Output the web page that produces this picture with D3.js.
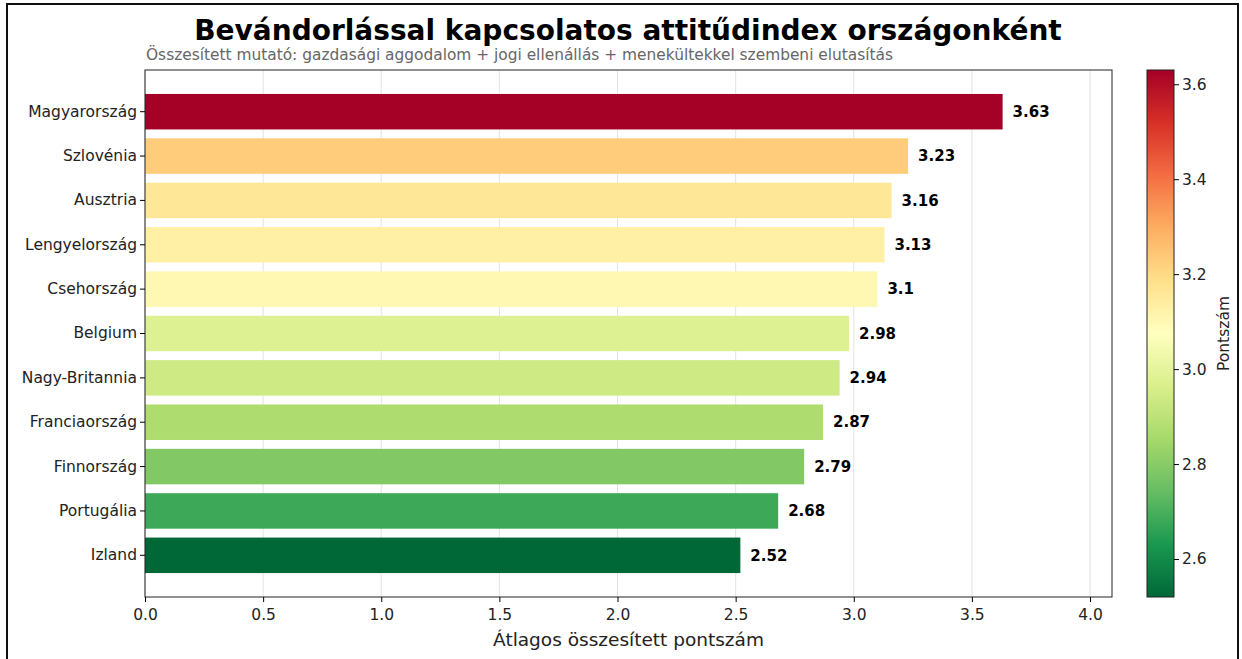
<!DOCTYPE html>
<html>
<head>
<meta charset="utf-8">
<script src="https://cdn.jsdelivr.net/npm/d3@7"></script>
<style>
  body { margin: 0; background: #fff; }
  text { font-family: "DejaVu Sans", sans-serif; }
</style>
</head>
<body>
<div id="chart"></div>
<script>
// data
const countries = ['Magyarország', 'Szlovénia', 'Ausztria', 'Lengyelország', 'Csehország',
  'Belgium', 'Nagy-Britannia', 'Franciaország', 'Finnország', 'Portugália', 'Izland'];
const scores = [3.63, 3.23, 3.16, 3.13, 3.1, 2.98, 2.94, 2.87, 2.79, 2.68, 2.52];
const xTicks = [0, 0.5, 1.0, 1.5, 2.0, 2.5, 3.0, 3.5, 4.0];
const cbTicks = [2.6, 2.8, 3.0, 3.2, 3.4, 3.6];

const W = 1242, H = 659;
const plot = { left: 145, right: 1112, top: 70, bottom: 597 };
const tickFont = '15.5px';

const svg = d3.select('#chart').append('svg')
  .attr('width', W).attr('height', H);

// outer frame
svg.append('rect')
  .attr('x', 7).attr('y', 4).attr('width', 1231).attr('height', H)
  .attr('fill', 'none').attr('stroke', '#111').attr('stroke-width', 2);

// scales
const x = d3.scaleLinear().domain([0, 4.093]).range([plot.left, plot.right]);
// band step = axes height / 11.88 (matplotlib margins), bars are 0.8 of step
const step = (plot.bottom - plot.top) / 11.88;
const y = d3.scaleBand().domain(countries)
  .range([plot.top + 0.44 * step, plot.bottom - 0.44 * step])
  .paddingInner(0.2).paddingOuter(0.1);

const rdylgn = d3.piecewise(d3.interpolateRgb, d3.schemeRdYlGn[11]);
const cmin = d3.min(scores), cmax = d3.max(scores);
const color = v => rdylgn(1 - (v - cmin) / (cmax - cmin));

// grid
svg.append('g').selectAll('line').data(xTicks).enter().append('line')
  .attr('x1', d => x(d)).attr('x2', d => x(d))
  .attr('y1', plot.top).attr('y2', plot.bottom)
  .attr('stroke', '#e3e3e3').attr('stroke-width', 1);

// bars
svg.append('g').selectAll('rect').data(countries).enter().append('rect')
  .attr('x', x(0))
  .attr('y', d => y(d))
  .attr('width', (d, i) => x(scores[i]) - x(0))
  .attr('height', y.bandwidth())
  .attr('fill', (d, i) => color(scores[i]));

// value labels
svg.append('g').selectAll('text').data(countries).enter().append('text')
  .attr('x', (d, i) => x(scores[i]) + 10)
  .attr('y', d => y(d) + y.bandwidth() / 2)
  .attr('dy', '0.35em')
  .style('font-size', '15px').style('font-weight', 'bold')
  .text((d, i) => String(scores[i]));

// plot frame
svg.append('rect')
  .attr('x', plot.left).attr('y', plot.top)
  .attr('width', plot.right - plot.left).attr('height', plot.bottom - plot.top)
  .attr('fill', 'none').attr('stroke', '#222').attr('stroke-width', 1);

// axes
const xAxis = svg.append('g')
  .attr('transform', `translate(0,${plot.bottom})`)
  .call(d3.axisBottom(x).tickValues(xTicks).tickFormat(d3.format('.1f')).tickSizeOuter(0).tickSize(5));
xAxis.select('.domain').remove();
xAxis.selectAll('text').style('font-size', tickFont).style('font-family', 'DejaVu Sans').attr('dy', '0.95em').attr('fill', '#222');

const yAxis = svg.append('g')
  .attr('transform', `translate(${plot.left},0)`)
  .call(d3.axisLeft(y).tickSizeOuter(0).tickSize(5));
yAxis.select('.domain').remove();
yAxis.selectAll('text').style('font-size', tickFont).style('font-family', 'DejaVu Sans').attr('fill', '#222');

// axis title
svg.append('text')
  .attr('x', (plot.left + plot.right) / 2).attr('y', 646)
  .attr('text-anchor', 'middle')
  .style('font-size', '18.5px').attr('fill', '#222')
  .text('Átlagos összesített pontszám');

// title & subtitle
svg.append('text')
  .attr('x', 628).attr('y', 40)
  .attr('text-anchor', 'middle')
  .style('font-size', '28px').style('font-weight', 'bold')
  .text('Bevándorlással kapcsolatos attitűdindex országonként');
svg.append('text')
  .attr('x', plot.left + 1).attr('y', 60)
  .style('font-size', '15.4px').attr('fill', '#666')
  .text('Összesített mutató: gazdasági aggodalom + jogi ellenállás + menekültekkel szembeni elutasítás');

// colorbar
const cb = { x: 1147, w: 27, top: plot.top, bottom: plot.bottom };
const cy = d3.scaleLinear().domain([cmin, cmax]).range([cb.bottom, cb.top]);
const grad = svg.append('defs').append('linearGradient')
  .attr('id', 'cbgrad').attr('x1', 0).attr('y1', 1).attr('x2', 0).attr('y2', 0);
d3.range(0, 1.0001, 0.05).forEach(t => {
  grad.append('stop').attr('offset', t).attr('stop-color', rdylgn(1 - t));
});
svg.append('rect')
  .attr('x', cb.x).attr('y', cb.top).attr('width', cb.w).attr('height', cb.bottom - cb.top)
  .attr('fill', 'url(#cbgrad)').attr('stroke', '#222').attr('stroke-width', 1);
const cbAxis = svg.append('g')
  .attr('transform', `translate(${cb.x + cb.w},0)`)
  .call(d3.axisRight(cy).tickValues(cbTicks).tickFormat(d3.format('.1f')).tickSize(5).tickSizeOuter(0));
cbAxis.select('.domain').remove();
cbAxis.selectAll('text').style('font-size', tickFont).style('font-family', 'DejaVu Sans').attr('fill', '#222');

svg.append('text')
  .attr('transform', `translate(1229,${(cb.top + cb.bottom) / 2}) rotate(-90)`)
  .attr('text-anchor', 'middle')
  .style('font-size', tickFont).attr('fill', '#222')
  .text('Pontszám');
</script>
</body>
</html>
